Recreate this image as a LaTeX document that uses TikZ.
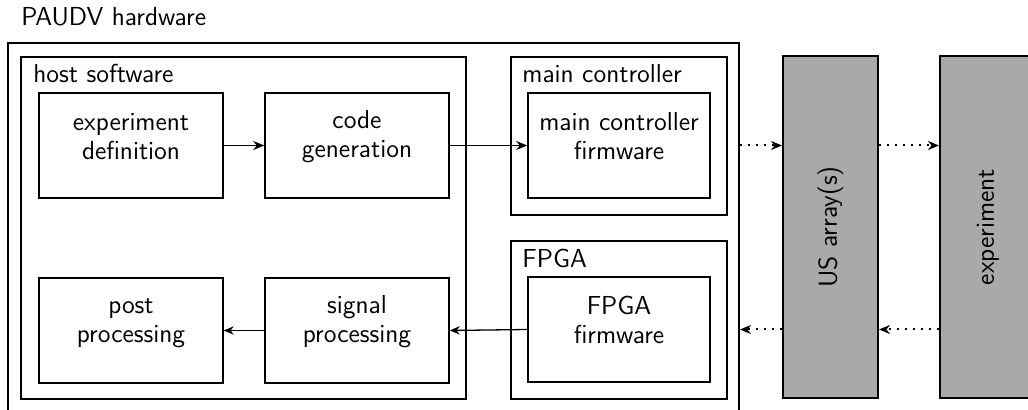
\documentclass[tikz,border=0pt]{standalone}
\usetikzlibrary{arrows.meta,fit}
\definecolor{arraygray}{RGB}{169,169,169}
\begin{document}
\begin{tikzpicture}[x=0.5pt,y=-0.5pt,
  txt/.style={font=\sffamily\fontsize{13}{14.5}\selectfont},
  frame/.style={draw, line width=0.8pt, inner sep=0pt},
  block/.style={frame, align=center, txt},
  device/.style={draw, line width=1pt, fill=arraygray, inner sep=0pt},
  flow/.style={-{Stealth[length=5.5pt,width=4.5pt]}, line width=0.9pt},
  backflow/.style={-{Stealth[length=5pt,width=4.2pt]}, line width=0.65pt},
  link/.style={-{Stealth[length=5.5pt,width=4.5pt]}, line width=1pt, dash pattern=on 1pt off 3pt},
  caption/.style={txt, anchor=base west, inner sep=0pt}]
\clip (0,0) rectangle (1028,410);

% overall hardware frame (open towards the bottom)
\node[draw, line width=1pt, inner sep=0pt, fit={(8,43) (739,440)}] (hw) {};
\node[caption] (hwlabel) at (21,26) {PAUDV hardware};

% host software
\node[frame, fit={(21,57) (466,399)}] (host) {};
\node[caption] (hostlabel) at (33,83) {host software};
\node[block, fit={(39,93) (223,198)}] (expdef) {experiment\\definition};
\node[block, fit={(265,93) (449,198)}] (codegen) {code\\generation};
\node[block, fit={(39,278) (223,383)}] (post) {post\\processing};
\node[block, fit={(265,278) (449,383)}] (sigproc) {signal\\processing};

% main controller
\node[frame, fit={(511,57) (727,215)}] (mainctrl) {};
\node[caption] (mainlabel) at (522,83) {main controller};
\node[block, fit={(528,93) (710,198)}] (mcfw) {main controller\\firmware};

% FPGA
\node[frame, fit={(511,241) (727,399)}] (fpga) {};
\node[caption] (fpgalabel) at (522,268) {FPGA};
\node[block, fit={(528,277) (710,382)}] (fpgafw) {FPGA\\firmware};

% transducer and experiment
\node[device, fit={(783,56) (878,398)}] (us) {};
\node[txt, rotate=90] (ustext) at (us.center) {US array(s)};
\node[device, fit={(940,56) (1036,398)}] (expt) {};
\node[txt, rotate=90] (expttext) at (expt.center) {experiment};

% data flow inside the hardware
\draw[flow] (expdef.east) -- (codegen.west);
\draw[flow] (codegen.east) -- (mcfw.west);
\draw[backflow] (fpgafw.west) -- (sigproc.east);
\draw[backflow] (sigproc.west) -- (post.east);

% excitation and echo paths
\draw[link] (hw.east |- mcfw.east) -- (us.west |- mcfw.east);
\draw[link] (us.east |- mcfw.east) -- (expt.west |- mcfw.east);
\draw[link] (expt.west |- fpgafw.east) -- (us.east |- fpgafw.east);
\draw[link] (us.west |- fpgafw.east) -- (hw.east |- fpgafw.east);
\end{tikzpicture}
\end{document}
